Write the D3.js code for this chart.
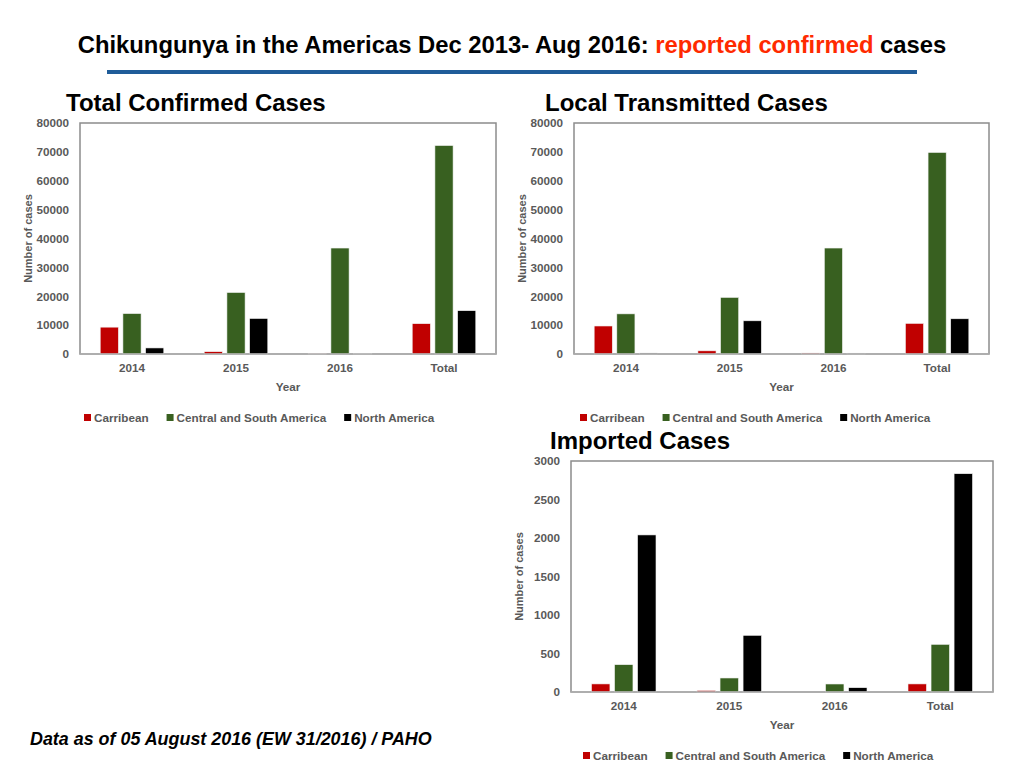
<!DOCTYPE html>
<html>
<head>
<meta charset="utf-8">
<script src="https://cdn.jsdelivr.net/npm/d3@7"></script>
<style>
  body { margin: 0; background: #fff; }
  svg { display: block; font-family: "Liberation Sans", Arial, sans-serif; }
</style>
</head>
<body>
<script>

// Categories and series
const categories = ["2014", "2015", "2016", "Total"];
const seriesNames = ["Carribean", "Central and South America", "North America"];
const seriesColors = ["#c00000", "#386020", "#000000"];

// Total confirmed cases, one array per series (in category order)
const totalCarribean = [9300, 800, 250, 10500];
const totalCentralSouth = [14000, 21300, 36700, 72200];
const totalNorth = [2100, 12300, 250, 15000];

// Local transmitted cases
const localCarribean = [9700, 1100, 350, 10600];
const localCentralSouth = [13900, 19600, 36700, 69800];
const localNorth = [350, 11500, 300, 12200];

// Imported cases
const importedCarribean = [105, 20, 0, 105];
const importedCentralSouth = [355, 182, 104, 619];
const importedNorth = [2040, 736, 56, 2835];

// Tick labels
const casesTicks = [0, 10000, 20000, 30000, 40000, 50000, 60000, 70000, 80000];
const importedTicks = [0, 500, 1000, 1500, 2000, 2500, 3000];

const gray = "#595959";
const smallFont = 11.7;

const svg = d3.select("body").append("svg")
    .attr("width", 1024)
    .attr("height", 768);

// Main title
const title = svg.append("text")
    .attr("x", 512)
    .attr("y", 53)
    .attr("text-anchor", "middle")
    .attr("font-size", 23.8)
    .attr("font-weight", "bold")
    .attr("fill", "#000");
title.append("tspan").text("Chikungunya in the Americas Dec 2013- Aug 2016: ");
title.append("tspan").attr("fill", "#ff2a00").text("reported confirmed");
title.append("tspan").text(" cases");

// Blue rule under the title
svg.append("line")
    .attr("x1", 107).attr("x2", 917)
    .attr("y1", 72).attr("y2", 72)
    .attr("stroke", "#1f5c99")
    .attr("stroke-width", 4);

// Source note
svg.append("text")
    .attr("x", 30)
    .attr("y", 745)
    .attr("font-size", 17.9)
    .attr("font-weight", "bold")
    .attr("font-style", "italic")
    .attr("fill", "#000")
    .text("Data as of 05 August 2016 (EW 31/2016) / PAHO");

function drawChart(opts){

    const g = svg.append("g");
    const values = opts.series;

    // Chart title
    g.append("text")
        .attr("x", opts.titleX)
        .attr("y", opts.top - 12)
        .attr("font-size", 24)
        .attr("font-weight", "bold")
        .attr("fill", "#000")
        .text(opts.title);

    // Scales
    const x = d3.scaleBand()
        .domain(categories)
        .range([opts.left, opts.right]);

    const xs = d3.scaleBand()
        .domain(seriesNames)
        .range([0, x.bandwidth()])
        .paddingInner(0.2)
        .paddingOuter(0.89);

    const y = d3.scaleLinear()
        .domain([0, d3.max(opts.ticks)])
        .range([opts.bottom, opts.top]);

    // Plot frame
    g.append("rect")
        .attr("x", opts.left)
        .attr("y", opts.top)
        .attr("width", opts.right - opts.left)
        .attr("height", opts.bottom - opts.top)
        .attr("fill", "none")
        .attr("stroke", "#8c8c8c")
        .attr("stroke-width", 1.5);

    // Bars
    seriesNames.forEach(function(name, i){
        g.append("g")
            .selectAll("rect")
            .data(categories)
            .join("rect")
            .attr("x", d => x(d) + xs(name))
            .attr("y", (d, j) => y(values[i][j]))
            .attr("width", xs.bandwidth())
            .attr("height", (d, j) => y(0) - y(values[i][j]))
            .attr("fill", seriesColors[i])
            .attr("stroke", "#f2f2f2")
            .attr("stroke-width", 0.6);
    });

    // Bottom axis line (drawn over the bars' base)
    g.append("line")
        .attr("x1", opts.left).attr("x2", opts.right)
        .attr("y1", y(0)).attr("y2", y(0))
        .attr("stroke", "#b0b0b0")
        .attr("stroke-width", 1.5);

    // Y axis
    g.append("g")
        .attr("transform", `translate(${opts.left},0)`)
        .call(d3.axisLeft(y).tickValues(opts.ticks).tickSize(0).tickPadding(11).tickFormat(d3.format("d")))
        .call(a => a.select(".domain").remove())
        .call(a => a.selectAll("text")
            .attr("font-size", smallFont)
            .attr("font-weight", "bold")
            .attr("font-family", "Liberation Sans, Arial, sans-serif")
            .attr("fill", gray));

    // X axis
    g.append("g")
        .attr("transform", `translate(0,${opts.bottom})`)
        .call(d3.axisBottom(x).tickSize(0).tickPadding(10))
        .call(a => a.select(".domain").remove())
        .call(a => a.selectAll("text")
            .attr("font-size", smallFont)
            .attr("font-weight", "bold")
            .attr("font-family", "Liberation Sans, Arial, sans-serif")
            .attr("fill", gray));

    // Axis titles
    g.append("text")
        .attr("x", (opts.left + opts.right) / 2)
        .attr("y", opts.bottom + 37)
        .attr("text-anchor", "middle")
        .attr("font-size", smallFont)
        .attr("font-weight", "bold")
        .attr("fill", gray)
        .text("Year");

    g.append("text")
        .attr("transform", `translate(${opts.left - 48},${(opts.top + opts.bottom) / 2}) rotate(-90)`)
        .attr("text-anchor", "middle")
        .attr("font-size", 11)
        .attr("font-weight", "bold")
        .attr("fill", gray)
        .text("Number of cases");

    // Legend
    let lx = opts.legendX;
    seriesNames.forEach(function(name, i){
        g.append("rect")
            .attr("x", lx)
            .attr("y", opts.legendY - 4)
            .attr("width", 7)
            .attr("height", 7)
            .attr("fill", seriesColors[i]);
        const t = g.append("text")
            .attr("x", lx + 10)
            .attr("y", opts.legendY + 4)
            .attr("font-size", smallFont)
            .attr("font-weight", "bold")
            .attr("fill", gray)
            .text(name);
        lx += 10 + t.node().getComputedTextLength() + 18;
    });
}

drawChart({
    title: "Total Confirmed Cases", titleX: 66,
    left: 80, right: 496, top: 123, bottom: 354,
    ticks: casesTicks,
    series: [totalCarribean, totalCentralSouth, totalNorth],
    legendX: 84, legendY: 418
});

drawChart({
    title: "Local Transmitted Cases", titleX: 545,
    left: 574, right: 989, top: 123, bottom: 354,
    ticks: casesTicks,
    series: [localCarribean, localCentralSouth, localNorth],
    legendX: 580, legendY: 418
});

drawChart({
    title: "Imported Cases", titleX: 550,
    left: 571, right: 993, top: 461, bottom: 692,
    ticks: importedTicks,
    series: [importedCarribean, importedCentralSouth, importedNorth],
    legendX: 583, legendY: 756
});

</script>
</body>
</html>
